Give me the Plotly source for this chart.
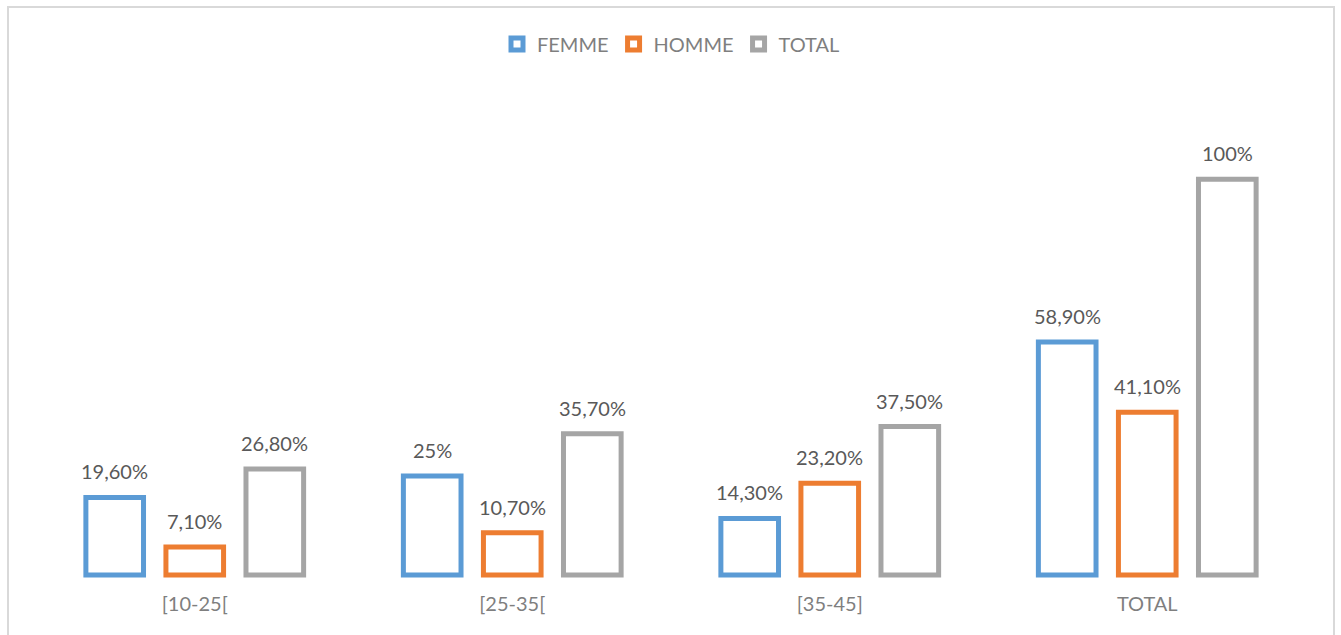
import plotly.graph_objects as go

# Age groups and share (%) per sex
categories = ["[10-25[", "[25-35[", "[35-45]", "TOTAL"]
femme = [19.6, 25.0, 14.3, 58.9]
homme = [7.1, 10.7, 23.2, 41.1]
total = [26.8, 35.7, 37.5, 100.0]
labels_femme = ["19,60%", "25%", "14,30%", "58,90%"]
labels_homme = ["7,10%", "10,70%", "23,20%", "41,10%"]
labels_total = ["26,80%", "35,70%", "37,50%", "100%"]

W, H = 1341, 635
L, R, T, B = 36, 35, 100, 54
FONT = "Lato, Carlito, sans-serif"

series = [
    ("FEMME", femme, labels_femme, "#5B9BD5", -80),
    ("HOMME", homme, labels_homme, "#ED7D31", 0),
    ("TOTAL", total, labels_total, "#A5A5A5", 80),
]

fig = go.Figure()
annotations = []
for name, vals, labs, color, shift in series:
    fig.add_trace(go.Bar(
        name=name, x=categories, y=vals,
        marker=dict(color="white", line=dict(color=color, width=5)),
        hoverinfo="skip",
    ))
    for c, v, t in zip(categories, vals, labs):
        annotations.append(dict(
            x=c, y=v, xref="x", yref="y", text=t, showarrow=False,
            xshift=shift, yshift=12, yanchor="bottom", xanchor="center",
            font=dict(family=FONT, size=20, color="#595959"),
        ))

pw = W - L - R
ph = H - T - B


def px_x(p):
    return (p - L) / pw


def px_y(p):
    return 1 - (p - T) / ph


fig.update_layout(
    width=W, height=H,
    margin=dict(l=L, r=R, t=T, b=B),
    paper_bgcolor="white", plot_bgcolor="white",
    barmode="group", bargap=0.2436, bargroupgap=0.28,
    showlegend=True,
    legend=dict(
        orientation="h", x=0.5, xanchor="center",
        yref="container", y=1 - 44 / H, yanchor="middle",
        font=dict(family=FONT, size=20, color="#7F7F7F"),
        itemclick=False, itemdoubleclick=False,
    ),
    xaxis=dict(
        showgrid=False, zeroline=False, showline=False, ticks="",
        tickfont=dict(family=FONT, size=20, color="#7F7F7F"),
        ticklabelstandoff=9,
    ),
    yaxis=dict(
        range=[-1.5, 120], visible=False, showgrid=False, zeroline=False,
    ),
    annotations=annotations,
    shapes=[dict(
        type="rect", xref="paper", yref="paper",
        x0=px_x(8), x1=px_x(1334), y0=px_y(645), y1=px_y(7),
        line=dict(color="#D9D9D9", width=2), fillcolor="rgba(0,0,0,0)",
        layer="below",
    )],
)

fig.write_html("out.html")
